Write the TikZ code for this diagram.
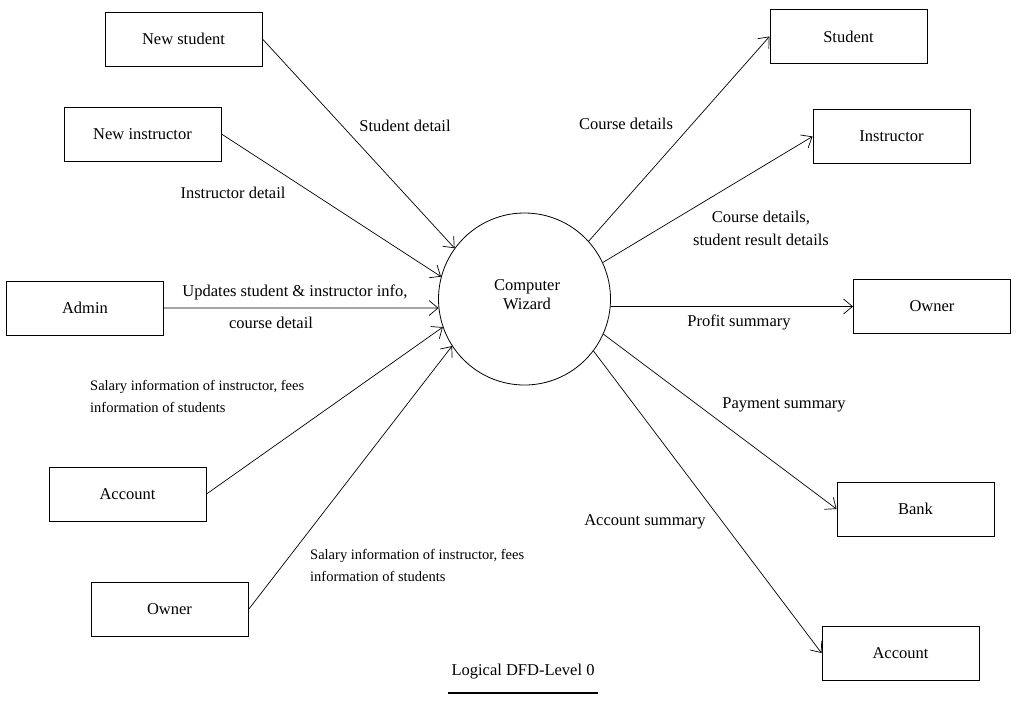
\documentclass[tikz,border=0pt]{standalone}
\usepackage{fontspec}
\setmainfont{Liberation Serif}
\usetikzlibrary{arrows.meta}
\begin{document}
\begin{tikzpicture}[x=1pt,y=-1pt,
  entity/.style={draw,line width=1pt,minimum width=157pt,minimum height=54pt,inner sep=0pt,font=\fontsize{16.5}{20}\selectfont},
  proc/.style={draw,circle,line width=0.8pt,minimum size=172pt,inner sep=0pt,align=center,font=\fontsize{16.5}{19}\selectfont},
  lbl/.style={inner sep=0pt,align=center,font=\fontsize{16.5}{23}\selectfont},
  small/.style={inner sep=0pt,align=left,font=\fontsize{14.5}{22}\selectfont},
  flow/.style={line width=0.7pt,-{Straight Barb[length=9pt,width=15pt]}}]
\useasboundingbox (0,0) rectangle (1017,702);
% entities
\node[entity] (ns) at (183.5,39) {New student};
\node[entity] (ni) at (142.5,134) {New instructor};
\node[entity] (ad) at (85,308) {Admin};
\node[entity] (acl) at (127.5,494) {Account};
\node[entity] (owl) at (169.5,609.5) {Owner};
\node[entity] (st) at (848.5,36.5) {Student};
\node[entity] (in) at (891.5,136.5) {Instructor};
\node[entity] (owr) at (932,306.5) {Owner};
\node[entity] (bk) at (915.5,509) {Bank};
\node[entity] (acr) at (900.5,653) {Account};
% process
\node[proc] (cw) at (524.5,299) {};
\node[lbl,font=\fontsize{16.5}{19}\selectfont] (cwt) at (527,295) {Computer\\Wizard};
% flows in
\draw[flow] (ns.east) -- (cw.144.7);
\draw[flow] (ni.east) -- (cw.165.9);
\draw[flow] (ad.east) -- (cw.186);
\draw[flow] (acl.east) -- (cw.199.4);
\draw[flow] (owl.east) -- (cw.213.5);
% flows out
\draw[flow] (cw.42.4) -- (st.west);
\draw[flow] (cw.25.8) -- (in.west);
\draw[flow] (cw.-5) -- (owr.west);
\draw[flow] (cw.-24.1) -- (bk.west);
\draw[flow] (cw.-37.3) -- (acr.west);
% labels
\node[lbl] (l1) at (405,126) {Student detail};
\node[lbl] (l2) at (233,193) {Instructor detail};
\node[lbl] (l3) at (295,292) {Updates student \& instructor info,};
\node[lbl] (l3b) at (271,323) {course detail};
\node[small,anchor=west] (l4) at (90,396.5) {Salary information of instructor, fees\\information of students};
\node[small,anchor=west] (l5) at (310,565) {Salary information of instructor, fees\\information of students};
\node[lbl] (l6) at (626,124) {Course details};
\node[lbl] (l7) at (761,228.5) {Course details,\\student result details};
\node[lbl] (l8) at (739,322) {Profit summary};
\node[lbl] (l9) at (784,405) {Payment summary};
\node[lbl] (l10) at (645,522) {Account summary};
% title
\node[lbl,inner xsep=3pt] (title) at (523,672) {Logical DFD-Level 0};
\draw[line width=2pt] ([yshift=-13pt]title.south west) -- ([yshift=-13pt]title.south east);
\end{tikzpicture}
\end{document}
